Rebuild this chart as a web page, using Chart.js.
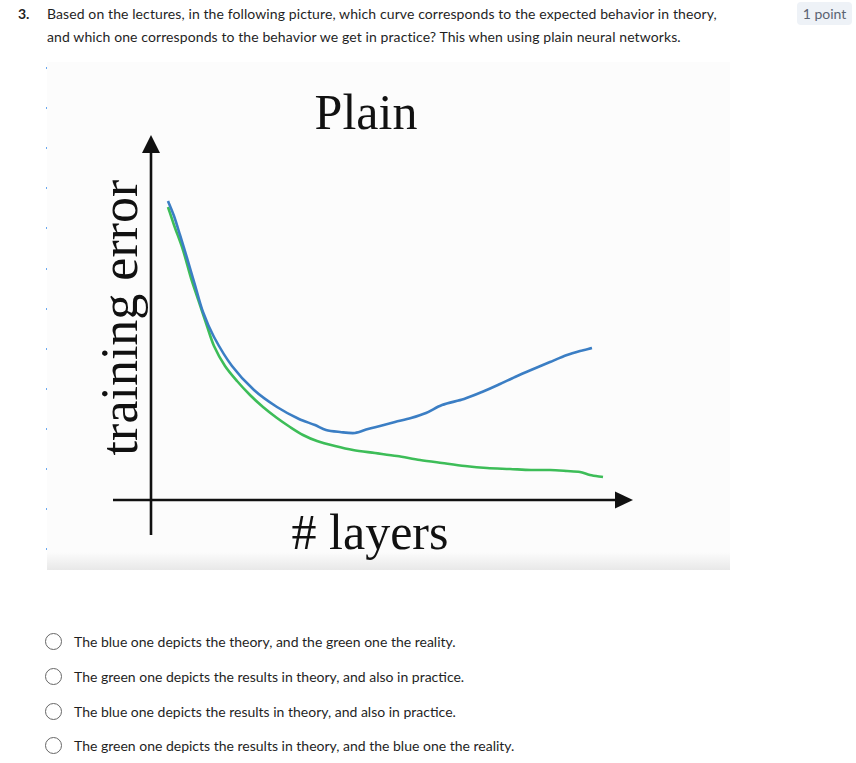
<!DOCTYPE html>
<html>
<head>
<meta charset="utf-8">
<script src="https://cdn.jsdelivr.net/npm/chart.js@4.4.1/dist/chart.umd.min.js"></script>
<style>
html,body{margin:0;padding:0;background:#fff;width:856px;height:763px;overflow:hidden;font-family:Lato,"Open Sans",sans-serif;color:#1f1f1f;}
.num{position:absolute;left:18px;top:2px;font-size:14px;line-height:23px;font-weight:700;}
.q{position:absolute;left:47px;top:2px;width:680px;font-size:14px;line-height:23px;letter-spacing:0.1px;}
.badge{position:absolute;left:797px;top:2px;width:55px;height:23px;border-radius:4px;background:#eef2f7;color:#5b6472;font-size:14px;line-height:23px;text-align:center;}
#imgbox{position:absolute;left:47px;top:62px;width:683px;height:508px;background:linear-gradient(to bottom,#fcfcfc 0%,#fcfcfc 96.5%,#e8e8e8 100%);}
#chart{position:absolute;left:0;top:0;}
.dot{position:absolute;left:46px;width:1px;height:2px;background:#6aa8f0;}
.opt{position:absolute;left:45px;height:20px;font-size:14px;line-height:20px;white-space:nowrap;}
.opt .r{position:absolute;left:0;top:1px;width:17px;height:17px;box-sizing:border-box;border:1.6px solid #666;border-radius:50%;}
.opt .t{position:absolute;left:29px;top:0;}
</style>
</head>
<body>
<div class="num">3.</div>
<div class="q">Based on the lectures, in the following picture, which curve corresponds to the expected behavior in theory, and which one corresponds to the behavior we get in practice? This when using plain neural networks.</div>
<div class="badge">1 point</div>

<div id="imgbox"><canvas id="chart" width="683" height="508"></canvas></div>
<div id="dots"></div>

<div class="opt" style="top:632px"><div class="r"></div><div class="t">The blue one depicts the theory, and the green one the reality.</div></div>
<div class="opt" style="top:667px"><div class="r"></div><div class="t">The green one depicts the results in theory, and also in practice.</div></div>
<div class="opt" style="top:702px"><div class="r"></div><div class="t">The blue one depicts the results in theory, and also in practice.</div></div>
<div class="opt" style="top:736px"><div class="r"></div><div class="t">The green one depicts the results in theory, and the blue one the reality.</div></div>

<script>
// ---- data (arbitrary units) ----
const chartTitle = "Plain";
const xAxisTitle = "# layers";
const yAxisTitle = "training error";

const blueLayers = [3.4,4.6,5.8,7.2,8.8,10.4,12.6,16.2,20.6,25.2,29.6,32.8,35,37.8,40.8,43.4,45.8,48.8,52,55,58.2,62.6,66.2,69.8,72.8,76,79.8,83.2,85.8,88.2];
const blueError  = [74.75,71,66.25,60.5,53.75,47,40.75,33.5,27.5,23.25,20.25,18.75,17.5,17,16.75,17.75,18.5,19.5,20.5,21.75,23.75,25.25,27,29,30.75,32.5,34.5,36.25,37.25,38];

const greenLayers = [3.4,4.6,6.4,8,9.6,11.2,12.6,14.8,17.2,19.8,22.4,25.2,27.8,30.4,33.2,36.8,40.4,44.8,49.2,53.8,58.2,62.8,67.2,71.8,76,79.8,83.2,85.8,87.8,90.4];
const greenError  = [73.25,68.75,62.5,55.5,49.5,43.5,38.5,33.5,29.75,26.25,23.25,20.5,18.25,16.25,14.75,13.5,12.5,11.75,11,10,9.25,8.5,8,7.75,7.5,7.5,7.25,7,6.25,5.75];

const xMin = 0, xMax = 96.4;
const yMin = 0, yMax = 91.25;

// tiny marks along the left edge of the picture
const dotsEl = document.getElementById('dots');
[67,107,147,187,227,268,308,348,388,428,468,508,548].forEach(y => {
  const d = document.createElement('div'); d.className = 'dot'; d.style.top = y + 'px'; dotsEl.appendChild(d);
});

const toPts = (xs, ys) => xs.map((x, i) => ({x: x, y: ys[i]}));

const serif = "'Liberation Serif','DejaVu Serif',serif";

const axesPlugin = {
  id: 'arrowAxes',
  beforeDatasetsDraw(chart) {
    const {ctx, chartArea: a} = chart;
    const x0 = chart.scales.x.getPixelForValue(xMin);
    const y0 = chart.scales.y.getPixelForValue(yMin);
    ctx.save();
    ctx.strokeStyle = '#111';
    ctx.fillStyle = '#111';
    ctx.lineWidth = 2.6;
    // vertical axis
    ctx.beginPath();
    ctx.moveTo(x0, y0 + 35);
    ctx.lineTo(x0, a.top + 14);
    ctx.stroke();
    ctx.beginPath();
    ctx.moveTo(x0, a.top);
    ctx.lineTo(x0 - 9, a.top + 18);
    ctx.lineTo(x0 + 9, a.top + 18);
    ctx.closePath();
    ctx.fill();
    // horizontal axis
    const xs = x0 - 38;
    ctx.beginPath();
    ctx.moveTo(xs, y0);
    ctx.lineTo(a.right - 14, y0);
    ctx.stroke();
    ctx.beginPath();
    ctx.moveTo(a.right, y0);
    ctx.lineTo(a.right - 18, y0 - 8.5);
    ctx.lineTo(a.right - 18, y0 + 8.5);
    ctx.closePath();
    ctx.fill();
    // x axis title
    ctx.font = "50px " + serif;
    ctx.textAlign = 'center';
    ctx.textBaseline = 'alphabetic';
    ctx.fillText(xAxisTitle, (xs + a.right) / 2 - 3, y0 + 49);
    ctx.restore();
  }
};

new Chart(document.getElementById('chart'), {
  type: 'line',
  data: {
    datasets: [
      {label: 'blue', data: toPts(blueLayers, blueError), borderColor: '#3b7ec4', borderWidth: 2.6, pointRadius: 0, tension: 0.3, fill: false},
      {label: 'green', data: toPts(greenLayers, greenError), borderColor: '#3dbd58', borderWidth: 2.6, pointRadius: 0, tension: 0.3, fill: false}
    ]
  },
  options: {
    responsive: false,
    animation: false,
    events: [],
    layout: {padding: {left: 52, right: 97, top: 0, bottom: 70}},
    plugins: {
      legend: {display: false},
      tooltip: {enabled: false},
      title: {
        display: true, text: chartTitle, color: '#111',
        font: {family: serif, size: 50, weight: 'normal', lineHeight: 0.72},
        padding: {top: 36, bottom: 1}
      }
    },
    scales: {
      x: {type: 'linear', min: xMin, max: xMax, display: false},
      y: {
        type: 'linear', min: yMin, max: yMax, display: true,
        ticks: {display: false},
        grid: {display: false, drawTicks: false},
        border: {display: false},
        title: {
          display: true, text: yAxisTitle, color: '#111',
          font: {family: serif, size: 52, weight: 'normal', lineHeight: 0.8},
          padding: {top: 4, bottom: 6.4}
        }
      }
    }
  },
  plugins: [axesPlugin]
});
</script>
</body>
</html>
